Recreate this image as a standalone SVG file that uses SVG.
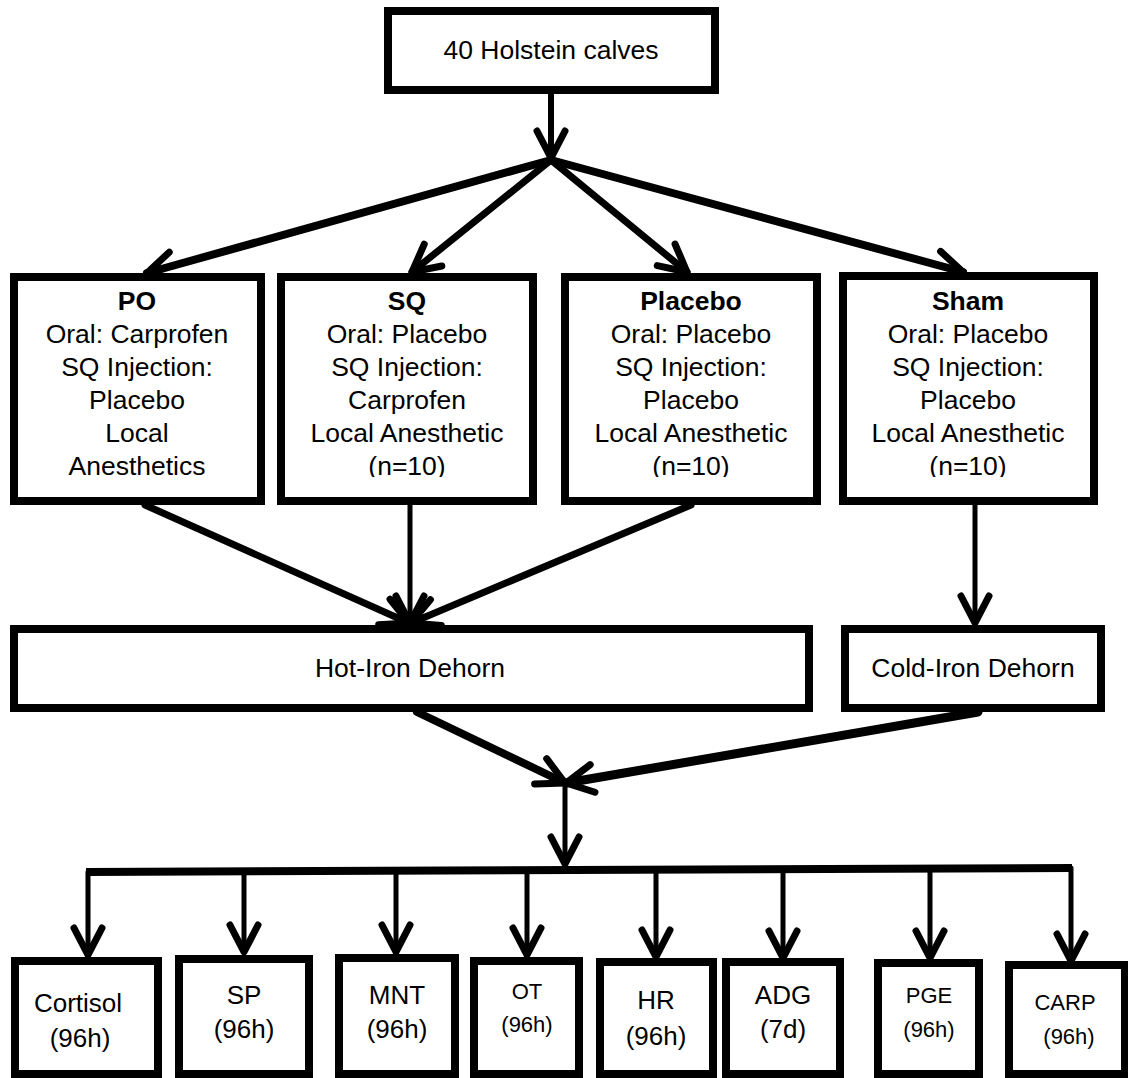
<svg xmlns="http://www.w3.org/2000/svg" width="1128" height="1078" viewBox="0 0 1128 1078">
<defs>
<style>
.box{fill:#fff;stroke:#000;stroke-width:8}
.t{font-family:"Liberation Sans",Arial,sans-serif;font-size:26.5px;fill:#000;text-anchor:middle}
.b{font-weight:bold}
.s{font-family:"Liberation Sans",Arial,sans-serif;font-size:26px;fill:#000;text-anchor:middle}
.m{font-size:22px}
.c{fill:none;stroke:#000;stroke-linecap:round;stroke-linejoin:round}
</style>
<marker id="ah" markerUnits="userSpaceOnUse" viewBox="-40 -25 50 50" markerWidth="50" markerHeight="50" refX="0" refY="0" orient="auto" overflow="visible">
<path d="M-27,-14 L0,0 L-27,14" fill="none" stroke="#000" stroke-width="7" stroke-linecap="round" stroke-linejoin="round"/>
</marker>
<clipPath id="clip2"><rect x="0" y="270" width="1128" height="207"/></clipPath>
</defs>

<g id="connectors" class="c">
<line x1="551" y1="92" x2="551" y2="158" stroke-width="6" marker-end="url(#ah)"/>
<line x1="551" y1="160" x2="147" y2="273" stroke-width="8" marker-end="url(#ah)"/>
<line x1="551" y1="160" x2="412" y2="272" stroke-width="7" marker-end="url(#ah)"/>
<line x1="551" y1="160" x2="687" y2="272" stroke-width="7" marker-end="url(#ah)"/>
<line x1="551" y1="160" x2="963" y2="272" stroke-width="8" marker-end="url(#ah)"/>
<line x1="145" y1="505" x2="409" y2="623" stroke-width="7" marker-end="url(#ah)"/>
<line x1="410" y1="505" x2="410" y2="623" stroke-width="5" marker-end="url(#ah)"/>
<line x1="691" y1="505" x2="411" y2="623" stroke-width="7" marker-end="url(#ah)"/>
<line x1="975" y1="505" x2="975" y2="623" stroke-width="5" marker-end="url(#ah)"/>
<line x1="417" y1="712" x2="565" y2="783" stroke-width="8" marker-end="url(#ah)"/>
<line x1="978" y1="712" x2="566" y2="783" stroke-width="9" marker-end="url(#ah)"/>
<line x1="565" y1="783" x2="565" y2="864" stroke-width="5" marker-end="url(#ah)"/>
<line x1="86" y1="872" x2="1072" y2="868" stroke-width="8" stroke-linecap="butt"/>
<line x1="88" y1="872" x2="88" y2="955" stroke-width="5" marker-end="url(#ah)"/>
<line x1="244" y1="871" x2="244" y2="952" stroke-width="5" marker-end="url(#ah)"/>
<line x1="396" y1="870" x2="396" y2="952" stroke-width="5" marker-end="url(#ah)"/>
<line x1="527" y1="870" x2="527" y2="955" stroke-width="5" marker-end="url(#ah)"/>
<line x1="656" y1="869" x2="656" y2="957" stroke-width="5" marker-end="url(#ah)"/>
<line x1="783" y1="869" x2="783" y2="958" stroke-width="5" marker-end="url(#ah)"/>
<line x1="930" y1="868" x2="930" y2="958" stroke-width="5" marker-end="url(#ah)"/>
<line x1="1071" y1="868" x2="1071" y2="961" stroke-width="5" marker-end="url(#ah)"/>
</g>

<g id="n-top">
<rect class="box" x="388" y="11" width="327" height="79"/>
<text class="t" x="551" y="59">40 Holstein calves</text>
</g>

<g id="n-po">
<rect class="box" x="14" y="277" width="247" height="224"/>
<g clip-path="url(#clip2)">
<text class="t" x="137" y="310"><tspan class="b">PO</tspan><tspan x="137" y="343">Oral: Carprofen</tspan><tspan x="137" y="376">SQ Injection:</tspan><tspan x="137" y="409">Placebo</tspan><tspan x="137" y="442">Local</tspan><tspan x="137" y="475">Anesthetics</tspan></text>
</g>
</g>

<g id="n-sq">
<rect class="box" x="281" y="277" width="252" height="224"/>
<g clip-path="url(#clip2)">
<text class="t" x="407" y="310"><tspan class="b">SQ</tspan><tspan x="407" y="343">Oral: Placebo</tspan><tspan x="407" y="376">SQ Injection:</tspan><tspan x="407" y="409">Carprofen</tspan><tspan x="407" y="442">Local Anesthetic</tspan><tspan x="407" y="475">(n=10)</tspan></text>
</g>
</g>

<g id="n-placebo">
<rect class="box" x="565" y="277" width="252" height="224"/>
<g clip-path="url(#clip2)">
<text class="t" x="691" y="310"><tspan class="b">Placebo</tspan><tspan x="691" y="343">Oral: Placebo</tspan><tspan x="691" y="376">SQ Injection:</tspan><tspan x="691" y="409">Placebo</tspan><tspan x="691" y="442">Local Anesthetic</tspan><tspan x="691" y="475">(n=10)</tspan></text>
</g>
</g>

<g id="n-sham">
<rect class="box" x="843" y="276" width="251" height="225"/>
<g clip-path="url(#clip2)">
<text class="t" x="968" y="310"><tspan class="b">Sham</tspan><tspan x="968" y="343">Oral: Placebo</tspan><tspan x="968" y="376">SQ Injection:</tspan><tspan x="968" y="409">Placebo</tspan><tspan x="968" y="442">Local Anesthetic</tspan><tspan x="968" y="475">(n=10)</tspan></text>
</g>
</g>

<g id="n-hot">
<rect class="box" x="14" y="629" width="795" height="79"/>
<text class="t" x="410" y="677">Hot-Iron Dehorn</text>
</g>

<g id="n-cold">
<rect class="box" x="845" y="629" width="256" height="79"/>
<text class="t" x="973" y="677">Cold-Iron Dehorn</text>
</g>

<g id="n-cortisol">
<rect class="box" x="15" y="961" width="143" height="113"/>
<text class="s" x="78" y="1012">Cortisol<tspan x="80" y="1047">(96h)</tspan></text>
</g>
<g id="n-sp">
<rect class="box" x="179" y="959" width="130" height="115"/>
<text class="s" x="244" y="1004">SP<tspan x="244" y="1038">(96h)</tspan></text>
</g>
<g id="n-mnt">
<rect class="box" x="339" y="958" width="116" height="116"/>
<text class="s" x="397" y="1004">MNT<tspan x="397" y="1038">(96h)</tspan></text>
</g>
<g id="n-ot">
<rect class="box" x="474" y="961" width="105" height="113"/>
<text class="s m" x="527" y="999">OT<tspan x="527" y="1032">(96h)</tspan></text>
</g>
<g id="n-hr">
<rect class="box" x="600" y="962" width="113" height="112"/>
<text class="s" x="656" y="1009">HR<tspan x="656" y="1045">(96h)</tspan></text>
</g>
<g id="n-adg">
<rect class="box" x="726" y="962" width="114" height="112"/>
<text class="s" x="783" y="1004">ADG<tspan x="783" y="1038">(7d)</tspan></text>
</g>
<g id="n-pge">
<rect class="box" x="878" y="963" width="101" height="111"/>
<text class="s m" x="929" y="1003">PGE<tspan x="929" y="1037">(96h)</tspan></text>
</g>
<g id="n-carp">
<rect class="box" x="1009" y="965" width="116" height="109"/>
<text class="s m" x="1065" y="1010">CARP<tspan x="1069" y="1044">(96h)</tspan></text>
</g>
</svg>
